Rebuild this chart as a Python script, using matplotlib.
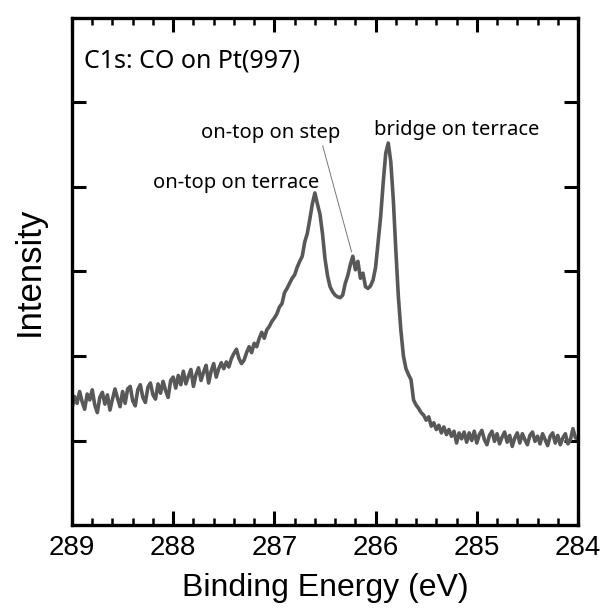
import numpy as np
import matplotlib
matplotlib.use("Agg")
import matplotlib.pyplot as plt
from matplotlib.ticker import MultipleLocator

# C1s XPS spectrum of CO on Pt(997), binding energy 289 -> 284 eV, step 0.025 eV
intensity = [
    1.38, 1.52, 1.44, 1.58, 1.46, 1.37, 1.55, 1.48, 1.60, 1.42, 1.33, 1.51, 1.57, 1.43, 1.54, 1.36, 1.49, 1.61, 1.50, 1.40,
    1.58, 1.44, 1.61, 1.64, 1.47, 1.41, 1.60, 1.66, 1.51, 1.45, 1.63, 1.68, 1.54, 1.49, 1.67, 1.56, 1.70, 1.59, 1.51, 1.71,
    1.75, 1.62, 1.77, 1.66, 1.82, 1.67, 1.76, 1.84, 1.64, 1.78, 1.86, 1.71, 1.81, 1.89, 1.68, 1.82, 1.91, 1.75, 1.85, 1.92,
    1.85, 1.93, 1.87, 1.97, 2.03, 2.08, 1.97, 1.91, 1.95, 2.04, 2.11, 2.04, 2.15, 2.11, 2.21, 2.28, 2.21, 2.31, 2.35, 2.41,
    2.45, 2.50, 2.58, 2.62, 2.75, 2.80, 2.86, 2.92, 2.96, 3.05, 3.12, 3.18, 3.35, 3.45, 3.62, 3.80, 3.93, 3.80, 3.68, 3.45,
    3.15, 2.95, 2.82, 2.76, 2.72, 2.70, 2.69, 2.72, 2.86, 2.95, 3.08, 3.18, 3.02, 3.12, 2.92, 2.98, 2.82, 2.80, 2.83, 2.90,
    3.05, 3.35, 3.65, 4.05, 4.40, 4.52, 4.30, 3.85, 3.25, 2.70, 2.30, 2.00, 1.85, 1.78, 1.72, 1.48, 1.42, 1.38, 1.33, 1.30,
    1.24, 1.28, 1.17, 1.21, 1.13, 1.18, 1.09, 1.16, 1.07, 1.13, 1.05, 1.11, 0.97, 1.09, 1.02, 1.10,
    0.98, 1.09, 1.00, 1.11, 0.97, 1.07, 1.12, 1.01, 0.95, 1.06, 1.11, 0.99, 1.08, 0.96, 1.04,
    1.10, 0.98, 1.06, 0.93, 1.03, 1.09, 0.97, 1.08, 1.01, 0.95, 1.06, 1.10, 0.99, 1.05, 0.96,
    1.08, 1.01, 0.94, 1.05, 1.09, 0.97, 1.06, 0.95, 1.03, 1.08, 0.96, 1.01, 1.14, 1.03, 1.02,
]
e_start, e_end = 289.0, 284.0
energy = np.linspace(e_start, e_end, len(intensity))

x_ticks = [289, 288, 287, 286, 285, 284]
y_ticks = [1, 2, 3, 4, 5]

title_text = "C1s: CO on Pt(997)"
peak_labels = ["on-top on terrace", "on-top on step", "bridge on terrace"]

fig = plt.figure(figsize=(6.06, 6.12), dpi=100)
ax = fig.add_axes([72/606, 1-525/612, (578-72)/606, (525-18)/612])

ax.plot(energy, intensity, color="#585858", lw=2.6, solid_joinstyle="round")

ax.set_xlim(289, 284)
ax.set_ylim(0, 6)
ax.set_xticks(x_ticks)
ax.set_xticklabels([str(t) for t in x_ticks])
ax.xaxis.set_minor_locator(MultipleLocator(0.2))
ax.set_yticks(y_ticks)
ax.set_yticklabels([])

for s in ax.spines.values():
    s.set_linewidth(2.4)
ax.tick_params(which="major", direction="in", length=10, width=2.2,
               top=True, right=True, labelsize=20, pad=7)
ax.tick_params(which="minor", direction="in", length=5, width=1.8,
               top=True, right=False, left=False)
for lab in ax.get_xticklabels():
    lab.set_fontfamily("Liberation Sans")

ax.set_xlabel("Binding Energy (eV)", fontsize=23, family="Liberation Sans", labelpad=9)
ax.set_ylabel("Intensity", fontsize=25, family="Liberation Sans", labelpad=12)

ax.text(0.024, 0.915, title_text, transform=ax.transAxes, fontsize=18,
        family="Noto Sans", ha="left", va="center")

ax.text(287.38, 4.05, peak_labels[0], fontsize=14.5, family="Noto Sans", ha="center", va="center")
ax.text(287.04, 4.64, peak_labels[1], fontsize=14.5, family="Noto Sans", ha="center", va="center")
ax.text(285.20, 4.67, peak_labels[2], fontsize=14.5, family="Noto Sans", ha="center", va="center")
ax.annotate("", xy=(286.23, 3.20), xytext=(286.53, 4.52),
            arrowprops=dict(arrowstyle="-", color="#777777", lw=0.7))

fig.savefig("out.png", dpi=100)
